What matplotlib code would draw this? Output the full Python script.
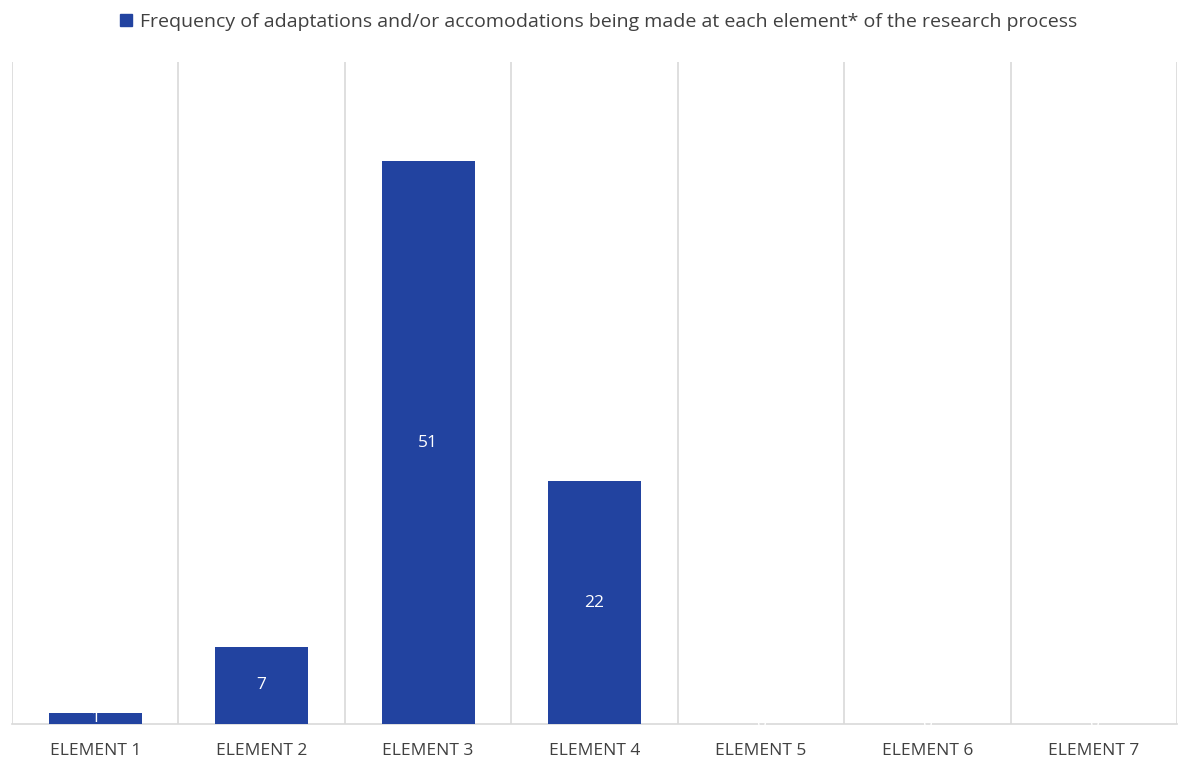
import matplotlib
matplotlib.use("Agg")
import matplotlib.pyplot as plt
from matplotlib.patches import Patch

categories = ["ELEMENT 1", "ELEMENT 2", "ELEMENT 3", "ELEMENT 4", "ELEMENT 5", "ELEMENT 6", "ELEMENT 7"]
values = [1, 7, 51, 22, 0, 0, 0]
series_name = "Frequency of adaptations and/or accomodations being made at each element* of the research process"

plt.rcParams['font.family'] = ['Open Sans', 'DejaVu Sans']

fig = plt.figure(figsize=(11.78, 7.6), dpi=100)
ax = fig.add_axes([0.0102, 0.0474, 0.9890, 0.871])

bar_color = "#2243A0"
x = list(range(len(categories)))
bars = ax.bar(x, values, width=0.56, color=bar_color, zorder=3)

ax.set_xlim(-0.5, len(categories) - 0.5)
ax.set_ylim(0, 60)

# vertical gridlines between categories
for b in [i - 0.5 for i in range(len(categories) + 1)]:
    ax.axvline(b, color="#d9d9d9", lw=1.2, zorder=1)

for s in ["top", "right", "left"]:
    ax.spines[s].set_visible(False)
ax.spines["bottom"].set_color("#d9d9d9")
ax.spines["bottom"].set_linewidth(1.2)
ax.set_yticks([])
ax.set_xticks(x)
ax.set_xticklabels(categories, fontsize=12.5, color="#404040")
for lbl in ax.get_xticklabels():
    lbl.set_fontstretch("expanded")
ax.tick_params(axis="x", length=0, pad=14)

for xi, v in zip(x, values):
    ax.text(xi, v / 2, str(v), ha="center", va="center", color="white", fontsize=12.5, zorder=4)

leg = fig.legend(handles=[Patch(facecolor=bar_color, edgecolor=bar_color)], labels=[series_name],
                 loc="center", bbox_to_anchor=(0.508, 0.971), frameon=False, fontsize=14,
                 handlelength=0.6, handleheight=0.6, handletextpad=0.4)
for t in leg.get_texts():
    t.set_color("#404040")

fig.savefig("out.png", dpi=100, facecolor="white")
